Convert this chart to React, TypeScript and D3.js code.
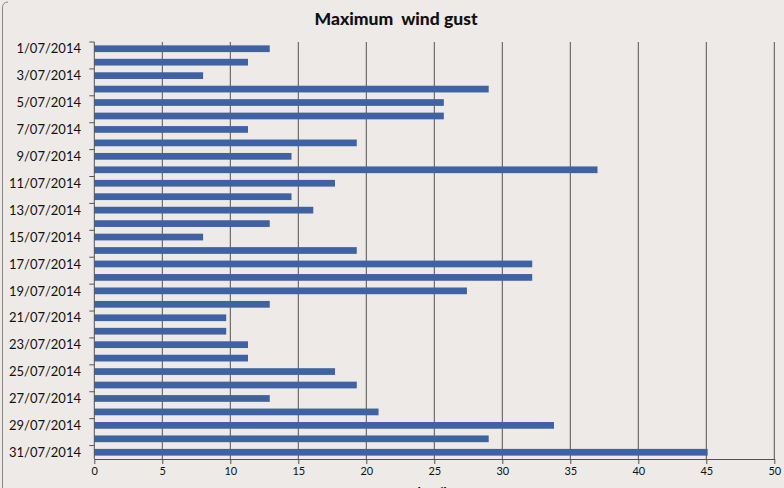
import React, { useEffect, useRef } from 'react';
import * as d3 from 'd3';

// One entry per day, July 2014
const days: string[] = d3.range(1, 32).map((d) => `${d}/07/2014`);

const gusts: number[] = [
    12.9, 11.3, 8.0, 29.0, 25.7, 25.7, 11.3, 19.3, 14.5, 37.0,
    17.7, 14.5, 16.1, 12.9, 8.0, 19.3, 32.2, 32.2, 27.4, 12.9,
    9.7, 9.7, 11.3, 11.3, 17.7, 19.3, 12.9, 20.9, 33.8, 29.0,
    45.1,
];

const xTicks: number[] = [0, 5, 10, 15, 20, 25, 30, 35, 40, 45, 50];

const chartTitle = 'Maximum  wind gust';
const axisTitle = 'km/h';

const App: React.FC = () => {
    const svgRef = useRef<SVGSVGElement | null>(null);

    useEffect(() => {
        if (!svgRef.current) return;

        const svg = d3.select(svgRef.current);
        svg.selectAll('*').remove();

        const width = 784;
        const height = 488;
        const margin = { top: 42, right: 10, bottom: 29, left: 94.3 };
        const font = 'Lato, "Open Sans", sans-serif';

        // background + chart border
        svg.append('rect')
            .attr('width', width)
            .attr('height', height)
            .attr('fill', '#edeae7');

        svg.append('path')
            .attr('d', `M2.5,${height} L2.5,8 Q2.5,2 8,2`)
            .attr('fill', 'none')
            .attr('stroke', '#8a8784')
            .attr('stroke-width', 1);

        const x = d3.scaleLinear()
            .domain([0, 50])
            .range([margin.left, 774.3]);

        const y = d3.scaleBand<string>()
            .domain(days)
            .range([margin.top, height - margin.bottom])
            .paddingInner(0.5)
            .paddingOuter(0.25);

        const bottom = height - margin.bottom;

        // vertical gridlines
        svg.append('g')
            .selectAll('line')
            .data(xTicks.slice(1))
            .enter()
            .append('line')
            .attr('x1', (d) => x(d))
            .attr('x2', (d) => x(d))
            .attr('y1', margin.top)
            .attr('y2', bottom)
            .attr('stroke', '#56524f')
            .attr('stroke-width', 1);

        // bars
        svg.append('g')
            .selectAll('rect')
            .data(gusts)
            .enter()
            .append('rect')
            .attr('x', x(0))
            .attr('y', (_, i) => y(days[i]) as number)
            .attr('width', (d) => x(d) - x(0))
            .attr('height', y.bandwidth())
            .attr('fill', '#3f62a5');

        // x axis
        const xAxis = d3.axisBottom(x)
            .tickValues(xTicks)
            .tickSize(5)
            .tickSizeOuter(0)
            .tickPadding(3)
            .tickFormat(d3.format('d'));

        const gx = svg.append('g')
            .attr('transform', `translate(0, ${bottom})`)
            .call(xAxis);
        gx.select('.domain').attr('stroke', '#56524f');
        gx.selectAll('line').attr('stroke', '#56524f');
        gx.selectAll('text')
            .attr('fill', '#111')
            .style('font-family', font)
            .style('font-size', '11px');

        // y axis: ticks on every second band boundary, labels on odd days
        const yAxisLine = svg.append('g');
        yAxisLine.append('line')
            .attr('x1', x(0))
            .attr('x2', x(0))
            .attr('y1', margin.top)
            .attr('y2', bottom)
            .attr('stroke', '#56524f');

        const step = y.step();
        const boundaries = d3.range(0, days.length, 2).map((i) => margin.top + i * step);
        yAxisLine.selectAll('line.tick')
            .data(boundaries)
            .enter()
            .append('line')
            .attr('class', 'tick')
            .attr('x1', x(0) - 5)
            .attr('x2', x(0))
            .attr('y1', (d) => d)
            .attr('y2', (d) => d)
            .attr('stroke', '#56524f');

        svg.append('g')
            .selectAll('text')
            .data(days.filter((_, i) => i % 2 === 0))
            .enter()
            .append('text')
            .attr('x', 81)
            .attr('y', (d) => (y(d) as number) + y.bandwidth() / 2)
            .attr('dy', '0.36em')
            .attr('text-anchor', 'end')
            .attr('fill', '#111')
            .style('font-family', font)
            .style('font-size', '13px')
            .text((d) => d);

        // titles
        svg.append('text')
            .attr('x', 396)
            .attr('y', 24.5)
            .attr('text-anchor', 'middle')
            .attr('fill', '#111')
            .style('font-family', font)
            .style('font-weight', '900')
            .style('font-size', '17.5px')
            .style('white-space', 'pre')
            .text(chartTitle);

        svg.append('text')
            .attr('x', x(25))
            .attr('y', 497)
            .attr('text-anchor', 'middle')
            .attr('fill', '#111')
            .style('font-family', font)
            .style('font-weight', 'bold')
            .style('font-size', '14px')
            .text(axisTitle);
    }, []);

    return (
        <svg
            ref={svgRef}
            width={784}
            height={488}
            style={{ position: 'absolute', left: 0, top: 0 }}
        />
    );
};

export default App;
